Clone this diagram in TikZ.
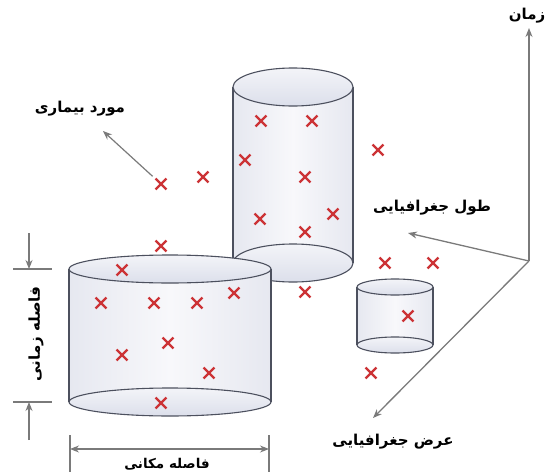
\documentclass[tikz,border=0pt]{standalone}
\usepackage{fontspec}
\usetikzlibrary{arrows.meta,shapes.misc}
\newfontfamily\fa[Script=Arabic, BoldFont={DejaVu Sans Bold}]{DejaVu Sans}
\TeXXeTstate=1
\definecolor{axisgray}{HTML}{7A7A7A}
\definecolor{edgecol}{HTML}{4C505E}
\definecolor{bodyL}{HTML}{E6E8F0}
\definecolor{bodyM}{HTML}{F8F8FB}
\definecolor{faceA}{HTML}{DCDFEB}
\definecolor{faceB}{HTML}{F3F4F8}
\definecolor{xred}{HTML}{CC3336}

\tikzset{
  axisline/.style={draw=axisgray, line width=1.3pt, -{Stealth[length=9pt,width=7pt]}},
  dimline/.style={draw=axisgray, line width=1.2pt},
  dimarrow/.style={dimline, -{Stealth[length=9pt,width=7pt]}},
  cyledge/.style={draw=edgecol, line width=1.1pt},
  cylbody/.style={left color=bodyL, right color=bodyL, middle color=bodyM},
  cylface/.style={cyledge, top color=faceB, bottom color=faceA},
  xmark/.style={cross out, draw=xred, line width=2.4pt, minimum size=8.5pt, inner sep=0pt},
  lbl/.style={font=\fa\bfseries\fontsize{15}{17}\selectfont, inner sep=0pt},
}

% cylinder: centre x, x radius, top y, bottom y, y radius
\newcommand{\drawcyl}[5]{%
  \path[cylbody] (#1-#2,#3) -- (#1-#2,#4)
    arc[start angle=180, end angle=0, x radius=#2, y radius=#5] -- (#1+#2,#3) -- cycle;
  \draw[cylface] (#1,#4) ellipse[x radius=#2, y radius=#5];
  \draw[cyledge] (#1-#2,#3) -- (#1-#2,#4) (#1+#2,#3) -- (#1+#2,#4);
  \draw[cylface] (#1,#3) ellipse[x radius=#2, y radius=#5];
}

\begin{document}
\begin{tikzpicture}[x=1pt, y=-1pt]
\useasboundingbox (0,0) rectangle (550,472);
\clip (0,0) rectangle (550,472);

% space-time axes
\coordinate (O) at (529,261);
\coordinate (tTop) at (529,28);
\coordinate (lonEnd) at (408,233);
\coordinate (latEnd) at (373,418);
\draw[axisline] (O) -- (tTop);
\draw[axisline] (O) -- (lonEnd);
\draw[axisline] (O) -- (latEnd);

\node[lbl] (tLbl) at (527,16) {\beginR زمان\endR};
\node[lbl] (lonLbl) at (432,208) {\beginR طول جغرافیایی\endR};
\node[lbl] (latLbl) at (393,442) {\beginR عرض جغرافیایی\endR};

% cylinders
\drawcyl{293}{60}{87}{263}{19}
\drawcyl{395}{38}{287}{345}{8}
\drawcyl{170}{101}{269}{402}{14}

% disease cases
\foreach \n/\px/\py in {
  1/161/184, 2/203/177, 3/161/246, 4/122/270, 5/101/303, 6/154/303,
  7/197/303, 8/234/293, 9/168/343, 10/122/355, 11/209/373, 12/161/403,
  13/261/121, 14/312/121, 15/245/160, 16/305/177, 17/260/219, 18/333/214,
  19/305/232, 20/305/292, 21/378/150, 22/385/263, 23/433/263, 24/408/316,
  25/371/373}
  \node[xmark] (x\n) at (\px,\py) {};

% case label
\node[lbl] (caseLbl) at (80,109) {\beginR مورد بیماری\endR};
\coordinate (caseTip) at (103,131);
\draw[axisline, line width=1.2pt, shorten <=4pt] (x1) -- (caseTip);

% temporal extent
\coordinate (tA) at (13,269);
\coordinate (tB) at (52,269);
\coordinate (tC) at (13,402);
\coordinate (tD) at (52,402);
\coordinate (tArrA) at (29,233);
\coordinate (tArrB) at (29,269);
\coordinate (tArrC) at (29,440);
\coordinate (tArrD) at (29,402);
\draw[dimline] (tA) -- (tB) (tC) -- (tD);
\draw[dimarrow] (tArrA) -- (tArrB);
\draw[dimarrow] (tArrC) -- (tArrD);
\node[lbl, rotate=90] (tExt) at (36,334) {\beginR فاصله زمانی\endR};

% spatial extent
\coordinate (sA) at (70,435);
\coordinate (sB) at (70,472);
\coordinate (sC) at (269,435);
\coordinate (sD) at (269,472);
\coordinate (sL) at (70,449);
\coordinate (sR) at (269,449);
\draw[dimline] (sA) -- (sB) (sC) -- (sD);
\draw[dimline, {Stealth[length=9pt,width=7pt]}-{Stealth[length=9pt,width=7pt]}] (sL) -- (sR);
\node[lbl, font=\fa\bfseries\fontsize{13.5}{15}\selectfont, anchor=south] (sExt) at (167,470) {\beginR فاصله مکانی\endR};
\end{tikzpicture}
\end{document}
